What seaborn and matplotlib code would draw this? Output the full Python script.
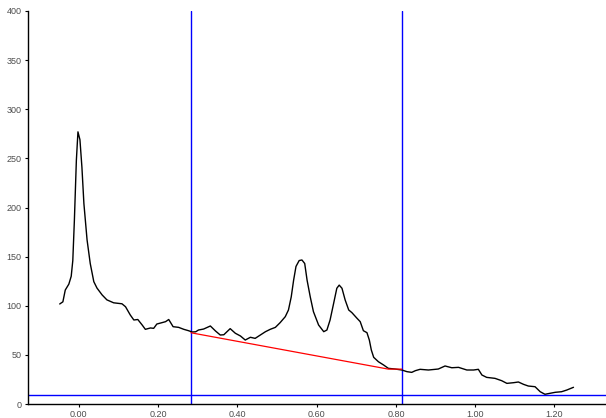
import numpy as np
import pandas as pd
import matplotlib
matplotlib.use("Agg")
import matplotlib.pyplot as plt
import seaborn as sns

# signal trace
trace_x = [-0.048, -0.040, -0.034, -0.025, -0.019, -0.015, -0.011, -0.006, -0.002, 0.003,
           0.008, 0.013, 0.021, 0.029, 0.038, 0.046, 0.059, 0.071, 0.088, 0.109,
           0.118, 0.130, 0.139, 0.149, 0.160, 0.168, 0.181, 0.189, 0.197, 0.210,
           0.219, 0.227, 0.238, 0.252, 0.265, 0.277, 0.286, 0.295, 0.302, 0.315,
           0.332, 0.345, 0.357, 0.366, 0.382, 0.395, 0.408, 0.420, 0.433, 0.445,
           0.458, 0.471, 0.483, 0.496, 0.508, 0.521, 0.529, 0.536, 0.542, 0.548,
           0.556, 0.563, 0.570, 0.576, 0.584, 0.592, 0.605, 0.618, 0.626, 0.634,
           0.643, 0.651, 0.657, 0.664, 0.672, 0.681, 0.689, 0.702, 0.710, 0.718,
           0.727, 0.733, 0.738, 0.744, 0.756, 0.769, 0.781, 0.798, 0.815, 0.828,
           0.840, 0.849, 0.861, 0.882, 0.907, 0.924, 0.941, 0.958, 0.979, 0.996,
           1.008, 1.017, 1.029, 1.050, 1.067, 1.080, 1.097, 1.109, 1.122, 1.134,
           1.151, 1.164, 1.176, 1.189, 1.202, 1.218, 1.231, 1.248]
trace_y = [101.8, 104, 116, 122, 130, 146, 187, 248, 277, 269,
           241, 204, 167, 143, 124.5, 118, 111, 106, 103, 102,
           99, 90.6, 85.5, 86, 80.4, 76, 77.4, 77, 81.4, 82.8,
           83.8, 86, 78.7, 78, 76, 74.6, 73.3, 73.5, 75.3, 76.3,
           79.4, 74.3, 70.2, 70.5, 76.7, 72, 69.2, 65.1, 67.9, 66.8,
           70.2, 73.6, 76, 78, 82.8, 88.9, 95.7, 109, 126, 140,
           146, 146.6, 143, 126, 109, 94, 80.4, 73.6, 75.3, 85.5,
           102.5, 117.8, 121, 117.8, 105.9, 95.7, 93, 87.2, 83.8, 74.6,
           72.6, 65.1, 55, 47.5, 43, 39.7, 36.3, 35.6, 34.6, 32.9,
           32.2, 33.9, 35.3, 34.6, 35.6, 38.7, 36.9, 37.3, 34.6, 34.6,
           35.3, 29.5, 27.1, 26.1, 23.7, 21, 21.7, 22.4, 20, 18.3,
           17.6, 12.5, 9.9, 10.9, 11.9, 12.5, 14.2, 17]

# integration baseline
base_x = [0.283, 0.781, 0.815]
base_y = [72.5, 35.5, 35.5]

# integration window and threshold
window_x = [0.283, 0.815]
threshold_y = 9.2

x_ticks = [0.0, 0.2, 0.4, 0.6, 0.8, 1.0, 1.2]
y_ticks = [0, 50, 100, 150, 200, 250, 300, 350, 400]

sns.set_theme(style="ticks")
plt.rcParams["font.family"] = ["Liberation Sans", "DejaVu Sans"]

df = pd.DataFrame({"x": trace_x, "y": trace_y})
base = pd.DataFrame({"x": base_x, "y": base_y})

fig = plt.figure(figsize=(6.06, 4.18), dpi=100)
ax = fig.add_axes([28 / 606, 14 / 418, 578 / 606, 393 / 418])

for xv in window_x:
    ax.axvline(xv, color="#0000FF", lw=1.0, zorder=1)
ax.axhline(threshold_y, color="#0000FF", lw=1.0, zorder=1)

sns.lineplot(data=df, x="x", y="y", sort=False, color="black", lw=1.0, ax=ax, zorder=3)
sns.lineplot(data=base, x="x", y="y", sort=False, color="#FF0000", lw=0.9, ax=ax, zorder=4)

ax.set_xlim(-0.128, 1.33)
ax.set_ylim(0, 400)
ax.set_xticks(x_ticks)
ax.set_xticklabels([f"{v:.2f}" for v in x_ticks])
ax.set_yticks(y_ticks)
ax.set_xlabel("")
ax.set_ylabel("")
ax.tick_params(axis="both", labelsize=6.5, labelcolor="#4D4D4D", color="black",
               length=2.5, width=0.8, pad=2)
for side in ["top", "right"]:
    ax.spines[side].set_visible(False)
for side in ["left", "bottom"]:
    ax.spines[side].set_color("black")
    ax.spines[side].set_linewidth(1.0)

fig.savefig("out.png", dpi=100)
